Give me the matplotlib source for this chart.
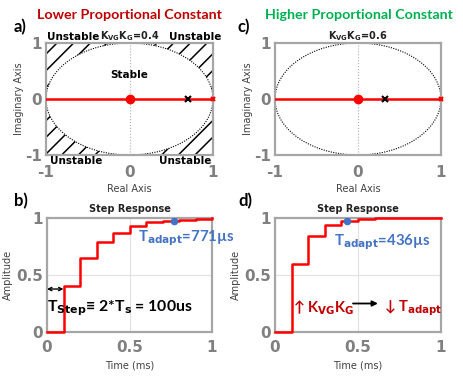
import numpy as np
import matplotlib
matplotlib.use("Agg")
import matplotlib.pyplot as plt

# ---------------- data ----------------
gain_labels = ["0.4", "0.6"]
zero_x = [0.70, 0.32]          # black x markers on real axis
pole_x = [0.0, 0.0]            # red dot
end_x = [1.0, 1.0]             # red marker at end of locus

t_steps = [0.0, 0.1, 0.2, 0.3, 0.4, 0.5, 0.6, 0.7, 0.8, 0.9, 1.0]
resp_low = [0.0, 0.40, 0.645, 0.787, 0.87, 0.93, 0.962, 0.976, 0.985, 0.992, 0.997]
resp_high = [0.0, 0.60, 0.84, 0.935, 0.975, 0.99, 1.0, 1.0, 1.0, 1.0, 1.0]
t_adapt = [0.771, 0.436]
t_adapt_amp = [0.976, 0.976]
tstep_ms = 0.1

plt.rcParams["hatch.linewidth"] = 1.1

W, H = 463, 378
fig = plt.figure(figsize=(W / 100, H / 100), dpi=100)

def ax_px(x0, y0, x1, y1):
    return fig.add_axes([x0 / W, 1 - y1 / H, (x1 - x0) / W, (y1 - y0) / H])

def ftxt(x, y, s, **kw):
    fig.text(x / W, 1 - y / H, s, **kw)

GRAY = "#808080"
SPINE = "#a6a6a6"
RED = "#ff0000"
DRED = "#c00000"
GREEN = "#00b050"
BLUE = "#4472c4"
TF = "Lato"

def style(ax, xpad):
    for s in ax.spines.values():
        s.set_color(SPINE)
        s.set_linewidth(1.6)
    ax.tick_params(length=0, labelsize=11, labelcolor=GRAY)
    ax.tick_params(axis="x", pad=xpad)
    ax.tick_params(axis="y", pad=3)
    for lab in ax.get_xticklabels() + ax.get_yticklabels():
        lab.set_fontweight("bold")

th = np.linspace(0, 2 * np.pi, 400)

# ---------------- pole-zero maps ----------------
axa = ax_px(46, 43, 213, 155)
axc = ax_px(275, 43, 441, 155)
for i, ax in enumerate([axa, axc]):
    ax.set_xlim(-1, 1)
    ax.set_ylim(-1, 1)
    ax.set_xticks([-1, 0, 1])
    ax.set_yticks([-1, 0, 1])
    ax.set_xticklabels(["-1", "0", "1"])
    ax.set_yticklabels(["-1", "0", "1"])
    ax.plot(np.cos(th), np.sin(th), color="black", ls=(0, (1, 1.2)), lw=0.8)
    ax.axvline(0, color="#b0b0b0", ls=":", lw=0.8)
    ax.plot([-1, 1], [0, 0], color=RED, lw=1.8, zorder=3)
    ax.plot(pole_x[i], 0, "o", color=RED, ms=6, zorder=4)
    ax.plot(end_x[i], 0, "x", color=RED, ms=3.5, mew=1.5, zorder=4, clip_on=False)
    ax.plot(zero_x[i], 0, "x", color="black", ms=4, mew=1.5, zorder=5)
    ax.set_xlabel("Real Axis", fontsize=7, color="#404040", labelpad=3)
    ax.set_ylabel("Imaginary Axis", fontsize=7, color="#404040", labelpad=1)
    ax.set_title(r"K$_{\mathbf{VG}}$K$_{\mathbf{G}}$=" + gain_labels[i], fontsize=7,
                 fontweight="bold", pad=2, color="#222222")
    style(ax, 7)

# hatched unstable corners in panel a
xx = np.linspace(-1, 1, 400)
yy = np.sqrt(np.clip(1 - xx ** 2, 0, None))
axa.fill_between(xx, yy, 1, facecolor="none", edgecolor="black", hatch="//", lw=0)
axa.fill_between(xx, -1, -yy, facecolor="none", edgecolor="black", hatch="//", lw=0)
kw = dict(fontsize=7.5, fontweight="bold", va="center")
axa.text(-0.99, 1.11, "Unstable", ha="left", clip_on=False, **kw)
axa.text(1.1, 1.11, "Unstable", ha="right", clip_on=False, **kw)
axa.text(-0.95, -1.11, "Unstable", ha="left", clip_on=False, **kw)
axa.text(0.98, -1.11, "Unstable", ha="right", clip_on=False, **kw)
axa.text(0.0, 0.43, "Stable", ha="center", **kw)

# ---------------- step responses ----------------
axb = ax_px(47, 218, 212, 332)
axd = ax_px(275, 218, 441, 332)
for i, (ax, r) in enumerate([(axb, resp_low), (axd, resp_high)]):
    ax.set_xlim(0, 1)
    ax.set_ylim(0, 1.0)
    ax.set_xticks([0, 0.5, 1])
    ax.set_xticklabels(["0", "0.5", "1"])
    ax.set_yticks([0, 0.5, 1])
    ax.set_yticklabels(["0", "0.5", "1"])
    ax.grid(True, color="#e0e0e0", lw=0.8)
    ax.plot(t_steps, r, drawstyle="steps-post", color=RED, lw=1.8, zorder=3, clip_on=False)
    ax.plot(t_adapt[i], t_adapt_amp[i], "o", color=BLUE, ms=4.5, zorder=4)
    ax.set_xlabel("Time (ms)", fontsize=7, color="#404040", labelpad=4)
    ax.set_ylabel("Amplitude", fontsize=7, color="#404040", labelpad=2)
    ax.set_title("Step Response", fontsize=7, fontweight="bold", pad=4, color="#222222")
    style(ax, 6)

# annotations in b
axb.annotate("", xy=(0.0, 0.377), xytext=(tstep_ms, 0.377),
             arrowprops=dict(arrowstyle="<->", color="black", lw=1, shrinkA=0, shrinkB=0,
                             mutation_scale=6))
axb.text(0.0, 0.21, r"T$_{\mathbf{Step}}$≡ 2*T$_{\mathbf{s}}$ = 100us", fontsize=11.3,
         fontweight="bold", family=TF, va="center", ha="left", color="black")
ftxt(138, 238, r"T$_{\mathbf{adapt}}$=771µs", fontsize=10.8, fontweight="bold", family=TF,
     color=BLUE, va="center", ha="left")

# annotations in d
ftxt(334, 242, r"T$_{\mathbf{adapt}}$=436µs", fontsize=10.8, fontweight="bold", family=TF,
     color=BLUE, va="center", ha="left")
ftxt(293, 308, r"↑ K$_{\mathbf{VG}}$K$_{\mathbf{G}}$", fontsize=10.5, fontweight="bold",
     family=[TF, "DejaVu Sans"], color=DRED, va="center", ha="left")
ftxt(384, 308, r"↓ T$_{\mathbf{adapt}}$", fontsize=10.5, fontweight="bold",
     family=[TF, "DejaVu Sans"], color=DRED, va="center", ha="left")
axd.annotate("", xy=(0.62, 0.25), xytext=(0.47, 0.25),
             arrowprops=dict(arrowstyle="-|>", color="black", lw=1.3, mutation_scale=8,
                             shrinkA=0, shrinkB=0))

# ---------------- headers ----------------
ftxt(129, 15, "Lower Proportional Constant", fontsize=10.3, fontweight="bold", family=TF,
     color=DRED, ha="center", va="center")
ftxt(359, 15, "Higher Proportional Constant", fontsize=10.3, fontweight="bold", family=TF,
     color=GREEN, ha="center", va="center")
for lab, x, y in [("a)", 14, 27), ("c)", 238, 27), ("b)", 14, 201), ("d)", 238, 201)]:
    ftxt(x, y, lab, fontsize=12, fontweight="bold", family=TF, ha="left", va="center")

fig.savefig("out.png", dpi=100)
